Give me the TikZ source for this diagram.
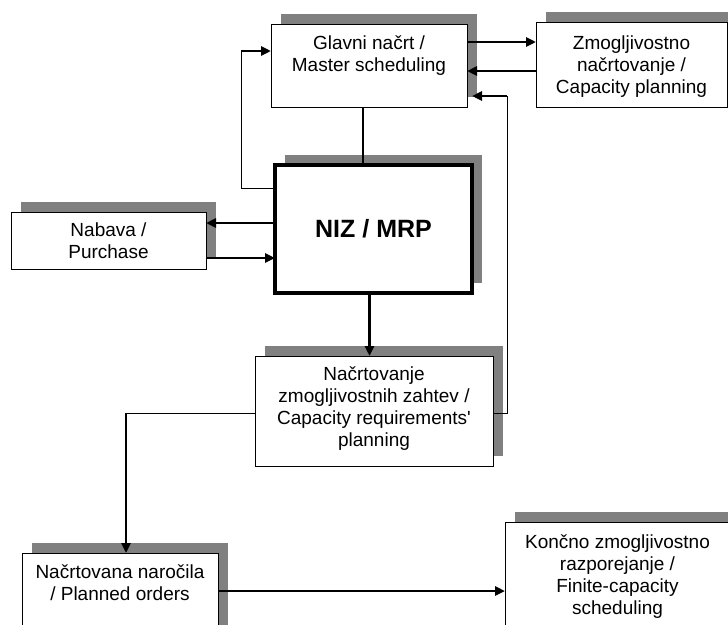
\documentclass[tikz,border=0pt]{standalone}
\usepackage{fontspec}
\setmainfont{Liberation Sans}[Ligatures=TeXOff]
\usetikzlibrary{arrows.meta,shadows}
\begin{document}
\begin{tikzpicture}[x=1pt,y=-1pt,
	every node/.style={inner sep=0pt,outer sep=0pt,font=\fontsize{19}{22}\selectfont},
	box/.style={draw,fill=white,line width=1pt,anchor=north west,align=center,
		general shadow={shadow xshift=10pt,shadow yshift=10pt,fill=gray}},
	txt/.style={align=center,anchor=north},
	link/.style={line width=1pt},
	bar/.style={line width=2.8pt},
	flow/.style={line width=2.8pt,-{Triangle[length=10pt,width=9pt]}}]
\useasboundingbox (0,0) rectangle (728,624);
\clip (0,0) rectangle (728,624);
% boxes
\node[box,minimum width=196pt,minimum height=83pt] (master) at (271,24) {};
\node[txt] (mastertxt) at ([yshift=-12pt]master.north) {Glavni načrt /\\Master scheduling};
\node[box,minimum width=191pt,minimum height=85pt] (cap) at (536,22) {};
\node[txt] (captxt) at ([yshift=-14pt]cap.north) {Zmogljivostno\\načrtovanje /\\Capacity planning};
\node[box,line width=3.2pt,minimum width=197pt,minimum height=128pt,
	font=\fontsize{25}{28}\selectfont\bfseries] (niz) at (275,165) {NIZ / MRP};
\node[box,minimum width=195pt,minimum height=57pt] (nab) at (11,212) {Nabava /\\Purchase};
\node[box,minimum width=238pt,minimum height=110pt] (crp) at (255,356) {};
\node[txt] (crptxt) at ([yshift=-11pt]crp.north) {Načrtovanje\\zmogljivostnih zahtev /\\Capacity requirements'\\planning};
\node[box,minimum width=196pt,minimum height=100pt] (plan) at (22,553) {};
\node[txt] (plantxt) at ([yshift=-12pt]plan.north) {Načrtovana naročila\\/ Planned orders};
\node[box,minimum width=225pt,minimum height=130pt] (fin) at (505,522) {};
\node[txt] (fintxt) at ([yshift=-13pt]fin.north) {Končno zmogljivostno\\razporejanje /\\Finite-capacity\\scheduling};
% connectors
\draw[flow] ([yshift=-18pt]master.north east) -- ([yshift=-18pt]master.north east -| cap.west);
\draw[flow] ([yshift=-49pt]cap.north west) -- ([yshift=-49pt]cap.north west -| master.east);
\draw[bar] ([xshift=-6pt]master.south) -- ([xshift=-6pt]master.south |- niz.north);
\draw[flow] ([yshift=-58pt]niz.north west) -- ([yshift=-58pt]niz.north west -| nab.east);
\draw[flow] ([yshift=-46pt]nab.north east) -- ([yshift=-46pt]nab.north east -| niz.west);
\draw[flow] ([xshift=-4pt]niz.south) -- ([xshift=-4pt]niz.south |- crp.north);
% feedback to master
\coordinate (fl) at ([xshift=-34pt,yshift=-23pt]niz.north west);
\coordinate (fm) at ([yshift=-27pt]master.north west);
\draw[link] ([yshift=-23pt]niz.north west) -- (fl) -- (fl |- fm);
\draw[flow] (fl |- fm) -- (fm);
\coordinate (fr) at ([xshift=14pt,yshift=-57pt]crp.north east);
\coordinate (fe) at ([xshift=5pt,yshift=-72pt]master.north east);
\draw[link] ([yshift=-57pt]crp.north east) -- (fr) -- (fr |- fe);
\draw[flow] (fr |- fe) -- (fe);
% down to planned orders
\coordinate (pl) at ([xshift=-129pt,yshift=-57pt]crp.north west);
\draw[link] ([yshift=-57pt]crp.north west) -- (pl);
\draw[flow] (pl) -- (pl |- plan.north);
\draw[flow] ([yshift=-38pt]plan.north east) -- ([yshift=-38pt]plan.north east -| fin.west);
\end{tikzpicture}
\end{document}
